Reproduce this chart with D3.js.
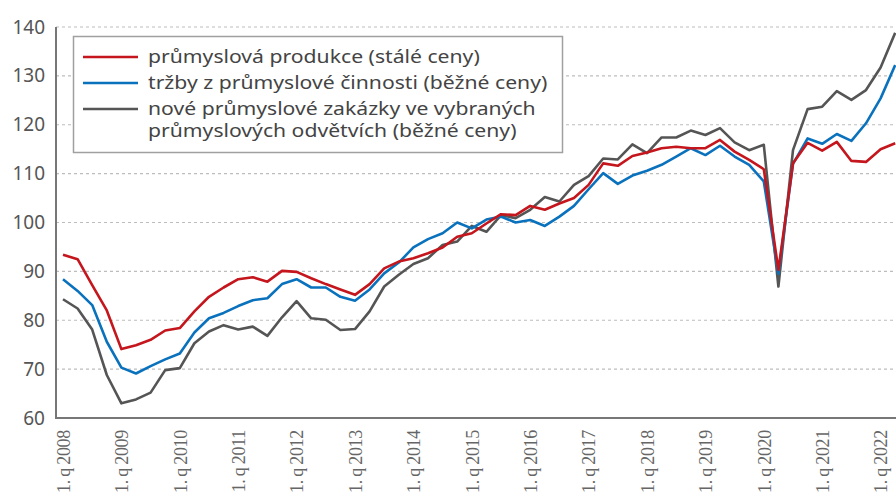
<!DOCTYPE html>
<html><head><meta charset="utf-8">
<script src="https://cdn.jsdelivr.net/npm/d3@7"></script>
<style>body{margin:0;background:#fff}svg{display:block}</style>
</head><body>
<svg id="c" width="896" height="498"></svg>
<script>
const years = [2008,2009,2010,2011,2012,2013,2014,2015,2016,2017,2018,2019,2020,2021,2022];
const quarters = [];
years.forEach(y => [1,2,3,4].forEach(q => { if (!(y===2022 && q>2)) quarters.push(q + ". q " + y); }));
const production = [93.4,92.5,87.2,82.0,74.1,74.9,76.0,77.9,78.4,81.8,84.8,86.7,88.4,88.8,87.9,90.1,89.9,88.6,87.4,86.3,85.2,87.4,90.6,92.0,92.7,93.7,94.9,97.1,97.8,99.8,101.7,101.5,103.4,102.6,103.9,105.0,107.7,112.1,111.6,113.6,114.3,115.2,115.5,115.2,115.2,116.9,114.5,112.8,110.9,90.3,112.1,116.3,114.7,116.5,112.6,112.4,115.0,116.2];
const revenue = [88.4,86.0,83.1,75.6,70.3,69.1,70.6,72.0,73.2,77.5,80.4,81.5,82.9,84.1,84.5,87.4,88.4,86.7,86.7,84.8,84.0,86.3,89.6,91.8,94.9,96.6,97.8,100.0,98.8,100.6,101.2,100.0,100.5,99.3,101.2,103.4,106.8,110.1,107.9,109.6,110.6,111.8,113.5,115.2,113.8,115.7,113.5,111.8,108.4,89.5,112.0,117.2,116.1,118.1,116.7,120.3,125.4,132.2];
const orders = [84.3,82.4,78.1,68.8,63.0,63.8,65.2,69.8,70.2,75.3,77.7,79.0,78.1,78.7,76.8,80.6,83.9,80.4,80.1,78.0,78.2,81.8,86.9,89.3,91.5,92.7,95.4,96.1,99.3,98.1,101.5,100.9,102.6,105.2,104.3,107.7,109.5,113.1,112.9,116.0,114.2,117.4,117.4,118.8,117.9,119.3,116.4,114.8,115.9,86.9,114.8,123.2,123.7,126.9,125.1,127.1,131.7,138.8];
const yTicks = [60,70,80,90,100,110,120,130,140];
const seriesNames = ["průmyslová produkce (stálé ceny)","tržby z průmyslové činnosti (běžné ceny)",["nové průmyslové zakázky ve vybraných","průmyslových odvětvích (běžné ceny)"]];
const colors = ["#c4161c","#0a72bd","#555555"];

const svg = d3.select("#c");
const x = d3.scalePoint().domain(quarters).range([63, 895.2]);
const y = d3.scaleLinear().domain([60,140]).range([418, 27]);
const left = 56, right = 896;

// gridlines
svg.append("g").selectAll("line").data(yTicks.filter(t=>t>60)).join("line")
  .attr("x1", left).attr("x2", right).attr("y1", d=>y(d)).attr("y2", d=>y(d))
  .attr("stroke","#bdbdbd").attr("stroke-width",1.2).attr("stroke-dasharray","3,3");

// y labels
const yAxis = d3.axisLeft(y).tickValues(yTicks).tickSize(0).tickPadding(11);
const gy = svg.append("g").attr("transform",`translate(${left},0)`).call(yAxis);
gy.select(".domain").remove();
gy.selectAll("text").attr("font-family","Noto Sans").attr("font-size",19).attr("fill","#555");

// x labels
const xAxis = d3.axisBottom(x).tickValues(quarters.filter(q=>q.startsWith("1."))).tickSize(0).tickFormat(d=>d.replace(". q ",".\u2009q\u2009"));
const gx = svg.append("g").attr("transform","translate(0,418)").call(xAxis);
gx.select(".domain").remove();
gx.selectAll("text").attr("font-family","Liberation Sans Narrow").attr("font-size",18).attr("fill","#666")
  .attr("letter-spacing","-0.3").attr("transform","rotate(-90)").attr("text-anchor","end").attr("x",-12).attr("y",0).attr("dy","0.35em");

// axes lines
svg.append("line").attr("x1",left).attr("x2",left).attr("y1",y(140)).attr("y2",y(60)+1).attr("stroke","#777").attr("stroke-width",2);
svg.append("line").attr("x1",left).attr("x2",right).attr("y1",y(60)).attr("y2",y(60)).attr("stroke","#777").attr("stroke-width",2);

// lines
const line = d3.line().x((d,i)=>x(quarters[i])).y(d=>y(d));
[[orders,2],[revenue,1],[production,0]].forEach(([s,ci]) => {
  svg.append("path").datum(s).attr("d",line).attr("fill","none").attr("stroke",colors[ci]).attr("stroke-width",2.6).attr("stroke-linejoin","round");
});

// legend
const lg = svg.append("g");
lg.append("rect").attr("x",73.5).attr("y",36.5).attr("width",489).attr("height",116).attr("fill","#fff").attr("stroke","#a0a0a0").attr("stroke-width",1.5);
const rows = [57, 83, 109];
seriesNames.forEach((n,i) => {
  lg.append("line").attr("x1",83).attr("x2",138).attr("y1",rows[i]).attr("y2",rows[i]).attr("stroke",colors[i]).attr("stroke-width",2.6);
  const lines = Array.isArray(n) ? n : [n];
  lines.forEach((l,j) => {
    lg.append("text").attr("transform",`translate(148,${rows[i] + j*22}) scale(1.21,1)`)
      .attr("font-family","Noto Sans").attr("font-size",17.5).attr("fill","#444").attr("dy","0.35em").text(l);
  });
});
</script>
</body></html>
